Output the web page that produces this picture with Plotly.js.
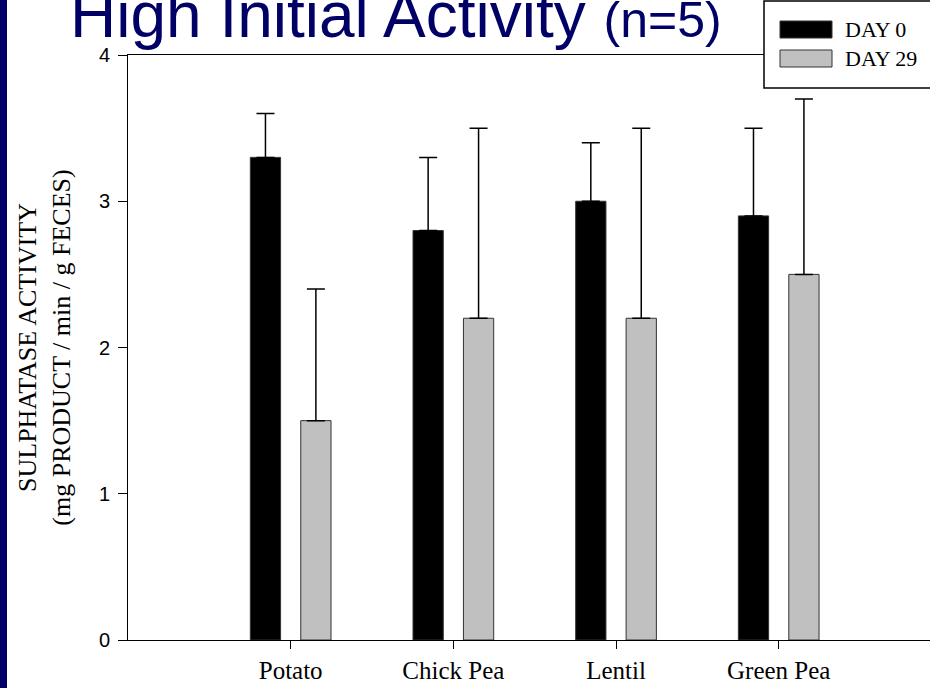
<!DOCTYPE html>
<html>
<head>
<meta charset="utf-8">
<script src="https://cdn.plot.ly/plotly-3.0.1.min.js"></script>
<style>
  html, body { margin: 0; padding: 0; background: #ffffff; overflow: hidden; }
  #chart { width: 930px; height: 688px; }
</style>
</head>
<body>
<div id="chart"></div>
<script>
// ---- data ----
var categories = ["Potato", "Chick Pea", "Lentil", "Green Pea"];
var day0Values = [3.3, 2.8, 3.0, 2.9];
var day0Errors = [0.3, 0.5, 0.4, 0.6];
var day29Values = [1.5, 2.2, 2.2, 2.5];
var day29Errors = [0.9, 1.3, 1.3, 1.2];
var seriesNames = ["DAY 0", "DAY 29"];
var yTicks = [0, 1, 2, 3, 4];

// ---- layout helpers ----
var W = 930, H = 688;
var M = { l: 128, r: 0, t: 55, b: 48 };
var plotW = W - M.l - M.r, plotH = H - M.t - M.b;
function px(x) { return (x - M.l) / plotW; }
function py(y) { return (H - M.b - y) / plotH; }

var navy = "#000066";
var grayFill = "#c0c0c0";

function zeros(n) { var a = []; for (var i = 0; i < n; i++) a.push(0); return a; }

var traces = [
  {
    type: "bar", name: seriesNames[0], x: categories, y: day0Values,
    marker: { color: "#000000", line: { color: "#333333", width: 1 } },
    error_y: { type: "data", symmetric: false, array: day0Errors, arrayminus: zeros(day0Errors.length),
               color: "#000000", thickness: 1.5, width: 9 },
    showlegend: false, hoverinfo: "skip"
  },
  {
    type: "bar", name: seriesNames[1], x: categories, y: day29Values,
    marker: { color: grayFill, line: { color: "#333333", width: 1 } },
    error_y: { type: "data", symmetric: false, array: day29Errors, arrayminus: zeros(day29Errors.length),
               color: "#000000", thickness: 1.5, width: 9 },
    showlegend: false, hoverinfo: "skip"
  }
];

var layout = {
  width: W, height: H,
  margin: M,
  paper_bgcolor: "#ffffff", plot_bgcolor: "#ffffff",
  barmode: "group", bargap: 0.38, bargroupgap: 0.4,
  showlegend: false,
  title: {
    text: 'High Initial Activity <span style="font-size:50px">(n=5)</span>',
    font: { family: "Arial, Liberation Sans, sans-serif", size: 64, color: navy },
    xref: "container", x: 70 / W, xanchor: "left",
    yref: "paper", y: 1, yanchor: "bottom", pad: { b: 18 }
  },
  xaxis: {
    type: "category", range: [-1.0, 3.93],
    showline: true, linecolor: "#000000", linewidth: 1, mirror: true,
    ticks: "outside", ticklen: 8, tickwidth: 1, tickcolor: "#000000",
    showgrid: false, zeroline: false,
    tickfont: { family: "Liberation Serif, Times New Roman, serif", size: 25, color: "#000000" },
    fixedrange: true
  },
  yaxis: {
    range: [0, 4], tickvals: yTicks, ticktext: yTicks.map(String),
    showline: true, linecolor: "#000000", linewidth: 1,
    ticks: "outside", ticklen: 9, tickwidth: 1, tickcolor: "#000000",
    ticklabelstandoff: 4,
    showgrid: false, zeroline: false,
    tickfont: { family: "Arial, Liberation Sans, sans-serif", size: 20, color: "#000000" },
    title: {
      text: "SULPHATASE ACTIVITY<br>(mg PRODUCT / min / g FECES)",
      standoff: 20,
      font: { family: "Liberation Serif, Times New Roman, serif", size: 26, color: "#000000" }
    },
    fixedrange: true
  },
  shapes: [
    // navy strip on the left edge of the slide
    { type: "rect", xref: "paper", yref: "paper", x0: px(0), x1: px(7), y0: -0.2, y1: 1.2,
      fillcolor: navy, line: { width: 0 }, layer: "above" },
    // legend box
    { type: "rect", xref: "paper", yref: "paper", x0: px(764), x1: px(960), y0: py(88), y1: py(1),
      fillcolor: "#ffffff", line: { color: "#000000", width: 1.5 }, layer: "above" },
    { type: "rect", xref: "paper", yref: "paper", x0: px(780), x1: px(832), y0: py(38), y1: py(21),
      fillcolor: "#000000", line: { color: "#333333", width: 1 }, layer: "above" },
    { type: "rect", xref: "paper", yref: "paper", x0: px(780), x1: px(832), y0: py(67), y1: py(50),
      fillcolor: grayFill, line: { color: "#333333", width: 1 }, layer: "above" }
  ],
  annotations: [
    { xref: "paper", yref: "paper", x: px(843), y: py(30), xanchor: "left", yanchor: "middle",
      text: seriesNames[0], showarrow: false,
      font: { family: "Liberation Serif, Times New Roman, serif", size: 22, color: "#000000" } },
    { xref: "paper", yref: "paper", x: px(843), y: py(59), xanchor: "left", yanchor: "middle",
      text: seriesNames[1], showarrow: false,
      font: { family: "Liberation Serif, Times New Roman, serif", size: 22, color: "#000000" } }
  ]
};

Plotly.newPlot("chart", traces, layout, { staticPlot: true, displayModeBar: false });
</script>
</body>
</html>
